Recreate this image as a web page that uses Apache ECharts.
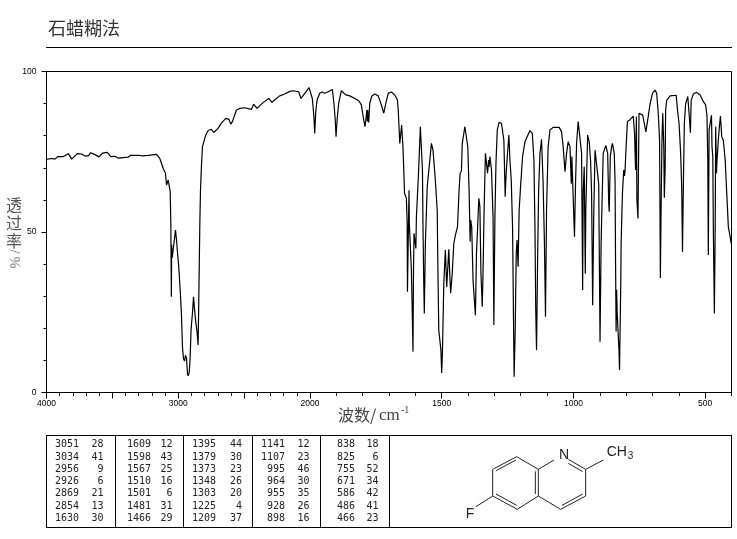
<!DOCTYPE html>
<html><head><meta charset="utf-8">
<style>html,body{margin:0;padding:0;background:#fff}#c{width:737px;height:539px}</style>
<script src="https://cdn.jsdelivr.net/npm/echarts@6/dist/echarts.min.js"></script>
</head><body><div id="c"></div>
<script>
const wavenumbers = [
4000,3961,3936,3915,3872,3857,3834,3809,3766,3733,3708,3682,3665,3632,3602,3574,3539,3511,3481,3455,3380,3362,3296,3273,3261,3228,3165,3140,3114,3097,3089,3076,3069,3061,3056,3052,3050,3046,3034,3028,3021,3018,3013,3006,2996,2985,2975,2968,2960,2952,2945,2937,2930,2925,2917,2910,2902,2892,2884,2877,2867,2857,2849,2844,2836,2831,2824,2816,2806,2791,2773,2748,2730,2698,2672,2639,2614,2601,2589,2558,2533,2495,2445,2427,2402,2356,2313,2288,2268,2255,2230,2192,2154,2129,2116,2086,2068,2035,2007,
1997,1991,1985,1982,1978,1973,1963,1954,1944,1931,1915,1909,1904,1901,1897,1891,1881,1874,1864,1849,1830,1814,1805,1796,1791,1788,1784,1782,1781,1777,1773,1765,1754,1741,1729,1720,1712,1703,1691,1678,1668,1665,1659,1652,1647,1641,1634,1631,1630,1626,1624,1623,1621,1615,1611,1609,1607,1605,1598,1596,1588,1581,1577,1573,1571,1568,1566,1562,1555,1553,1545,1539,1533,1525,1517,1514,1511,1507,1503,1500,1497,1492,1488,1486,1481,1476,1473,1471,1466,1460,1454,1448,1440,1434,1430,1425,1422,1412,1406,1401,1396,1392,1390,1386,1381,1376,1372,1368,1364,1359,1355,1351,1346,1343,1339,1334,1330,1326,1322,1320,1317,1311,1305,1302,1298,1294,1289,1282,1273,1264,1259,1256,1251,1245,1241,1236,1231,1227,1225,1221,1217,1214,1210,1206,1200,1193,1184,1165,1156,1150,1146,1143,1140,1136,1132,1127,1121,1115,1110,1106,1102,1096,1089,1077,1054,1045,1039,1032,1026,1020,1013,1008,1006,1001,996,992,988,982,975,969,965,963,959,955,953,946,940,935,931,927,923,918,912,904,899,895,887,877,870,866,864,860,855,852,849,845,842,840,838,836,834,827,825,820,819,814,809,806,804,800,795,785,773,768,764,761,759,755,751,745,737,731,725,721,716,709,700,690,684,678,673,670,668,664,661,657,655,652,650,646,633,610,605,599,593,589,586,583,579,574,566,561,556,553,545,532,519,507,498,493,490,488,485,479,476,474,471,469,465,462,460,457,455,450,446,442,437,431,424,418,412,405,401];
const transmittance = [
72.6,72.9,72.7,73.5,73.5,72.9,74.4,72.7,74.4,74.3,73.7,73.7,74.7,74.1,73.4,74.6,74.8,73.5,73.6,73,73.3,73.9,73.9,73.7,74.3,73.9,74.2,72.9,69.8,68.3,64.6,66.2,66.5,62.6,52,29.8,46,42,42.5,48,50.6,50,47.5,43.8,39.2,31.9,23.8,14.2,10.6,9.8,11.6,10.6,5.9,5.2,6.1,10.6,20,24.6,29.8,26.2,22,18.9,14.8,28.6,52.7,63,70.3,76.6,77.1,80.2,81.6,82,81,82.3,83.9,85.4,85.1,83.6,84.4,88,88.5,88.7,88.2,89.8,88.5,90.3,91.6,90.4,91.1,90.6,92.4,93,93.8,94,93.5,93.7,91.6,93.4,95,
94.5,91.6,85.9,80.7,87.5,91.1,93.2,93.6,93.2,93.7,94.4,90.1,84.9,79.7,84.9,90.1,94,94,92.7,92.4,91.6,90.8,89.6,84.9,82.8,84.9,88,84.4,88,84.1,90.1,92.4,93,92.4,89.6,87,90.1,93.2,93.6,92.7,91.1,88,77.6,83.3,76.6,62,60.5,52.7,31.4,53,63,53,53,38,22,12.7,38,49.6,44.9,54.7,68.3,82.8,83.3,69.3,51.6,34,24.6,46.4,64,65.7,72.4,77.6,75.5,67.2,56.8,36,19.4,16.3,13.2,6.1,13,34,41,44.4,32.9,40.2,44.6,40.2,30.9,37,46.4,49,51.6,63,68.3,69,77.6,82.8,83.3,76.6,63,47,53.7,51.6,35,28.8,24.1,43.3,50.6,60.5,57.9,37,26.7,38,56.8,74.5,75,68.3,72.4,70.3,73.5,69.3,54.7,21,54.7,71.4,81.8,84.2,83.8,78.6,61,67.2,73.5,80.2,72.4,66.2,51.6,19.4,4.9,19.4,43.3,47.5,39.2,56.8,65,73.5,78.1,81.6,80.7,72.4,51.6,25.7,13.2,41.2,63,74.5,78.9,65,46.4,23.6,56.8,76.6,81.8,82.6,82.6,81.2,76.6,68.8,74.5,78.1,76.6,65,73.5,73.5,48.5,65,77.6,84.4,84.4,74.5,31.9,62,70.3,37,56.8,80.2,78.1,72.4,62,27.2,54.7,75.5,75.5,65,15.8,46.4,74.5,77,74.5,58.9,56.3,73.5,76.6,77.6,78.1,74.5,66,40,19,32,25,13,7,36,46.4,62,69.3,67.5,69.3,76.6,84.4,85,86.1,80.7,69.3,86,60,54.2,87,87.2,86.4,83.8,81.2,81.8,86,90,93.2,94.2,93.2,87,78.6,35.7,51.6,78.6,87,76.6,60.7,69.3,88,91,92.4,92.6,88,83.8,74.5,64,43.8,63,83.8,90,92.2,87,80.9,91,93,93.5,92.7,90.6,89.6,86,72.4,42.8,81.8,82.3,86.4,76.6,73.5,51.6,24.6,50.6,82.8,68.3,72.4,78.6,82.8,86.1,79.7,78.6,72.4,62,51.6,48.5,46.4];
const xTickLabels = [4000,3000,2000,1500,1000,500];
const yTickLabels = [0,50,100];
const peakWavenumbers = [
[3051,3034,2956,2926,2869,2854,1630],
[1609,1598,1567,1510,1501,1481,1466],
[1395,1379,1373,1348,1303,1225,1209],
[1141,1107,995,964,955,928,898],
[838,825,755,671,586,486,466]];
const peakValues = [
[28,41,9,6,21,13,30],
[12,43,25,16,6,31,29],
[44,30,23,26,20,4,37],
[12,23,46,30,35,26,16],
[18,6,52,34,42,41,23]];
const titleText = '石蜡糊法';

// The wavenumber axis changes scale at 2000 cm-1 (twice as wide below it).
const toAxis = w => w >= 2000 ? 4000 - w : 2000 + (2000 - w) * 2;
const range = (a, b, s) => { const r = []; for (let v = a; v >= b; v -= s) r.push(v); return r; };
const majorW = [4000,3500,3000,2500,2000,1500,1000,500];
const minorW = range(4000, 400, 100).filter(w => !majorW.includes(w));
const labelMap = {}; xTickLabels.forEach(w => labelMap[toAxis(w)] = String(w));

const tickFont = {fontFamily:'Liberation Sans', fontSize:8.5, color:'#000'};
const gfx = [];
const line = (x1,y1,x2,y2,w,c) => gfx.push({type:'line',silent:true,shape:{x1,y1,x2,y2},style:{stroke:c||'#000',lineWidth:w||1}});
const text = (t,x,y,o) => gfx.push({type:'text',silent:true,x,y,rotation:(o&&o.rotation)||0,style:Object.assign({text:t,fill:'#000',textAlign:'center',textVerticalAlign:'middle'},o&&o.style)});

// heading
text(titleText,48,28.5,{style:{font:'18px "Noto Sans CJK SC"',fill:'#333',textAlign:'left'}});
line(46,47.5,732,47.5);

// y axis name
const cjk = '16px "Noto Sans CJK SC"';
[['透',205],['过',223],['率',241]].forEach(p => text(p[0],14,p[1],{style:{font:cjk,fill:'#555'}}));
text('/ %',14,259,{rotation:-Math.PI/2,style:{font:'14px "Liberation Serif"',fill:'#777'}});

// x axis name
text('波数/',338,415,{style:{font:cjk,fill:'#444',textAlign:'left'}});
text('cm',379,416,{style:{font:'17px "Liberation Serif"',fill:'#444',textAlign:'left'}});
text('-1',401,410,{style:{font:'10px "Liberation Serif"',fill:'#444',textAlign:'left'}});

// peak table
line(46,435.5,732,435.5); line(46,527.5,732,527.5);
[46.5,115.5,183.5,252.5,320.5,389.5,731.5].forEach(x => line(x,435,x,528));
const waveRight = [79,151,216,285,355], valRight = [103.5,172.5,242,309.5,378.5];
const rowY = [444.5,457,469,481.5,493.5,506,518.5];
peakWavenumbers.forEach((col,i) => col.forEach((v,j) => {
  const f = '10px "DejaVu Sans Mono"';
  text(String(v),waveRight[i],rowY[j],{style:{font:f,textAlign:'right',fill:'#222'}});
  text(String(peakValues[i][j]),valRight[i],rowY[j],{style:{font:f,textAlign:'right',fill:'#222'}});
}));

// structure drawing
const S = (x,y) => [440 + x/3, 430 + y/3];
const bond = (a,b,c,d) => { const p = S(a,b), q = S(c,d); line(p[0],p[1],q[0],q[1],1,'#222'); };
[[230,80,295,118],[295,118,295,198],[295,198,232,238],[232,238,158,198],[158,198,158,118],[158,118,230,80],
 [168,122,228,90],[286,124,286,192],[168,192,230,226],
 [295,118,342,90],[385,88,437,118],[385,100,428,125],[437,118,437,198],[437,198,362,238],[295,198,362,238],
 [428,192,366,226],[437,118,490,90],[158,198,108,230]].forEach(b => bond.apply(null,b));
const mol = '14px "Liberation Sans"';
let pt = S(372,76); text('N',pt[0],pt[1],{style:{font:mol,fill:'#222'}});
pt = S(90,252); text('F',pt[0],pt[1],{style:{font:mol,fill:'#222'}});
pt = S(500,65); text('CH',pt[0],pt[1],{style:{font:mol,fill:'#222',textAlign:'left'}});
pt = S(563,78); text('3',pt[0],pt[1],{style:{font:'10px "Liberation Sans"',fill:'#222',textAlign:'left'}});

const chart = echarts.init(document.getElementById('c'), null, {renderer:'canvas'});
chart.setOption({
  animation:false,
  backgroundColor:'#fff',
  grid:{left:46.5,top:71.5,right:5.5,bottom:146.5,show:true,borderColor:'#000',borderWidth:1},
  xAxis:[{
    type:'value',min:0,max:5200,position:'bottom',splitLine:{show:false},
    axisLine:{lineStyle:{color:'#000',width:1},onZero:false},
    axisTick:{length:6,lineStyle:{color:'#000'},customValues:majorW.map(toAxis)},
    axisLabel:Object.assign({margin:7,hideOverlap:false,showMinLabel:true,showMaxLabel:true,
      customValues:xTickLabels.map(toAxis),formatter:v=>labelMap[v]||''},tickFont)
  },{
    type:'value',min:0,max:5200,position:'bottom',splitLine:{show:false},
    axisLine:{show:false,onZero:false},
    axisTick:{length:3.5,lineStyle:{color:'#000'},customValues:minorW.map(toAxis)},
    axisLabel:{show:false}
  }],
  yAxis:{
    type:'value',min:0,max:100,interval:50,splitLine:{show:false},minorSplitLine:{show:false},
    axisLine:{show:true,lineStyle:{color:'#000',width:1}},
    axisTick:{show:true,length:5,lineStyle:{color:'#000'}},
    minorTick:{show:true,splitNumber:5,length:3,lineStyle:{color:'#000'}},
    axisLabel:Object.assign({margin:10,formatter:v=>yTickLabels.includes(v)?String(v):''},tickFont)
  },
  series:[{
    type:'line',showSymbol:false,symbol:'none',smooth:false,
    lineStyle:{color:'#000',width:1.2},
    data:wavenumbers.map((w,i)=>[toAxis(w),transmittance[i]])
  }],
  graphic:gfx
});
</script></body></html>
